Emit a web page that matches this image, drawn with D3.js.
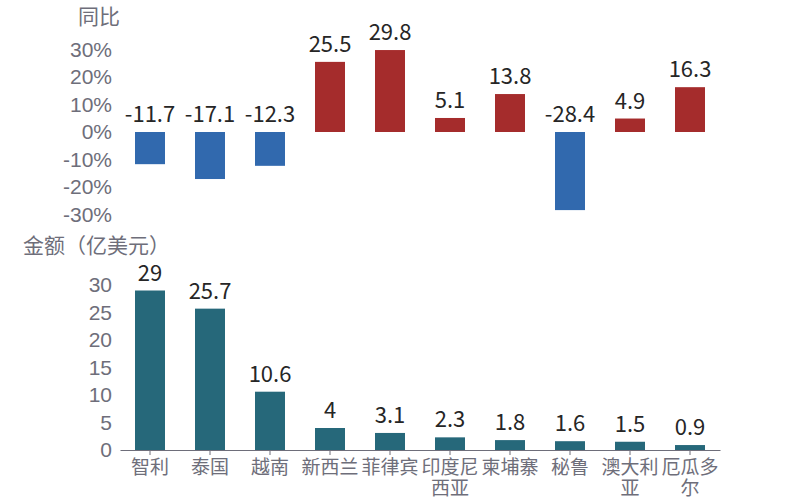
<!DOCTYPE html>
<html>
<head>
<meta charset="utf-8">
<script src="https://cdn.jsdelivr.net/npm/d3@7"></script>
<style>
    body { margin: 0; background: #fff; }
    svg { font-family: "Noto Sans CJK SC", "Noto Sans", sans-serif; }
    .tick-label { fill: #6e6e7a; font-size: 21px; }
    .cat-label { fill: #6e6e7a; font-size: 19px; }
    .value-label { fill: #262626; font-size: 22px; }
    .title { fill: #6e6e7a; font-size: 21px; }
</style>
</head>
<body>
<svg id="chart" width="800" height="500"></svg>
<script>
"use strict";

// Data
const countries = ["智利", "泰国", "越南", "新西兰", "菲律宾", "印度尼西亚", "柬埔寨", "秘鲁", "澳大利亚", "厄瓜多尔"];
const countryLines = [["智利"], ["泰国"], ["越南"], ["新西兰"], ["菲律宾"], ["印度尼", "西亚"], ["柬埔寨"], ["秘鲁"], ["澳大利", "亚"], ["厄瓜多", "尔"]];
const yoyValues = [-11.7, -17.1, -12.3, 25.5, 29.8, 5.1, 13.8, -28.4, 4.9, 16.3];
const amountValues = [29, 25.7, 10.6, 4, 3.1, 2.3, 1.8, 1.6, 1.5, 0.9];
const yoyTicks = [-30, -20, -10, 0, 10, 20, 30];
const amountTicks = [0, 5, 10, 15, 20, 25, 30];

// Colours
const colNeg = "#3169ae";
const colPos = "#a52c2c";
const colAmount = "#26687a";
const colGrey = "#6e6e7a";

const svg = d3.select("#chart");

// Shared x scale
const xScale = d3.scaleBand()
    .domain(countries)
    .range([120, 720])
    .paddingInner(0.5)
    .paddingOuter(0.25);

// ---- top chart: 同比 ----
const yTop = d3.scaleLinear().domain([-30, 30]).range([214.5, 49.5]);

svg.append("text").attr("class", "title")
    .attr("x", 78).attr("y", 24).text("同比");

const topAxis = svg.append("g")
    .attr("transform", "translate(112,0)")
    .call(d3.axisLeft(yTop).tickValues(yoyTicks).tickSize(0).tickPadding(0)
        .tickFormat(d => d + "%"));
topAxis.select(".domain").remove();
topAxis.selectAll("text").attr("class", "tick-label").attr("fill", null).attr("font-size", null).attr("font-family", null);

svg.append("g").selectAll("rect")
    .data(yoyValues)
    .join("rect")
        .attr("x", (d, i) => xScale(countries[i]))
        .attr("width", xScale.bandwidth())
        .attr("y", d => yTop(Math.max(0, d)))
        .attr("height", d => Math.abs(yTop(d) - yTop(0)))
        .attr("fill", d => d < 0 ? colNeg : colPos);

svg.append("g").selectAll("text")
    .data(yoyValues)
    .join("text")
        .attr("class", "value-label")
        .attr("text-anchor", "middle")
        .attr("x", (d, i) => xScale(countries[i]) + xScale.bandwidth() / 2)
        .attr("y", d => Math.min(yTop(d), yTop(0)) - 10)
        .text(d => d);

// ---- bottom chart: 金额 ----
const yBot = d3.scaleLinear().domain([0, 30]).range([450, 285]);

svg.append("text").attr("class", "title")
    .attr("x", 23).attr("y", 253).text("金额（亿美元）");

const botAxis = svg.append("g")
    .attr("transform", "translate(112,0)")
    .call(d3.axisLeft(yBot).tickValues(amountTicks).tickSize(0).tickPadding(0));
botAxis.select(".domain").remove();
botAxis.selectAll("text").attr("class", "tick-label").attr("fill", null).attr("font-size", null).attr("font-family", null);

svg.append("g").selectAll("rect")
    .data(amountValues)
    .join("rect")
        .attr("x", (d, i) => xScale(countries[i]))
        .attr("width", xScale.bandwidth())
        .attr("y", d => yBot(d))
        .attr("height", d => yBot(0) - yBot(d))
        .attr("fill", colAmount);

svg.append("g").selectAll("text")
    .data(amountValues)
    .join("text")
        .attr("class", "value-label")
        .attr("text-anchor", "middle")
        .attr("x", (d, i) => xScale(countries[i]) + xScale.bandwidth() / 2)
        .attr("y", d => yBot(d) - 10)
        .text(d => d);

// x axis
const xAxis = svg.append("g")
    .attr("transform", `translate(0, ${yBot(0)})`)
    .call(d3.axisBottom(xScale).tickSize(5).tickSizeOuter(0).tickFormat(""));
xAxis.select(".domain").attr("stroke", colGrey).attr("stroke-width", 1.2);
xAxis.selectAll("line").attr("stroke", colGrey);

const catLabels = svg.append("g").selectAll("text")
    .data(countryLines)
    .join("text")
        .attr("class", "cat-label")
        .attr("text-anchor", "middle")
        .attr("x", (d, i) => xScale(countries[i]) + xScale.bandwidth() / 2)
        .attr("y", 474);
catLabels.selectAll("tspan")
    .data(d => d)
    .join("tspan")
        .attr("x", function () { return this.parentNode.getAttribute("x"); })
        .attr("dy", (d, i) => i === 0 ? 0 : 21)
        .text(d => d);
</script>
</body>
</html>
